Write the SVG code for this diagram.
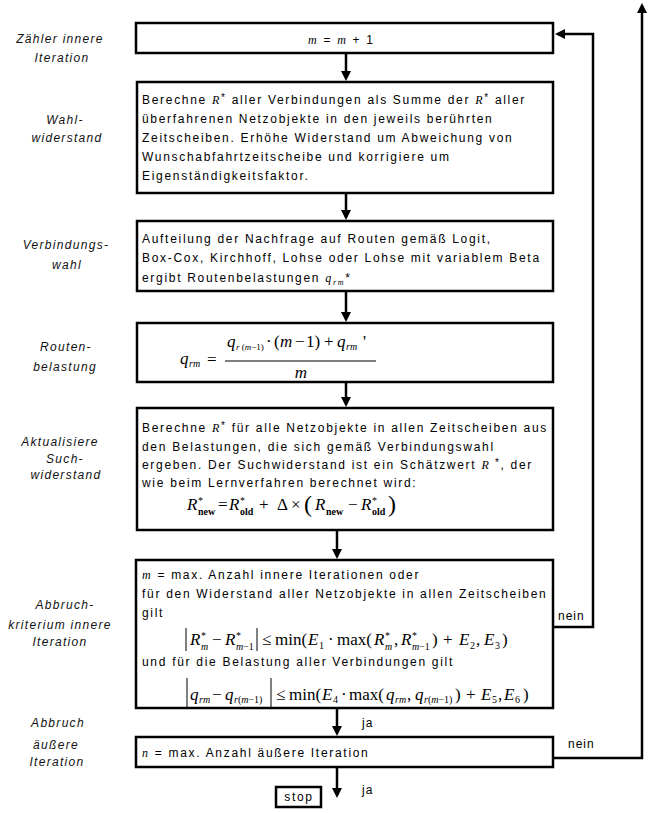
<svg xmlns="http://www.w3.org/2000/svg" width="650" height="813" viewBox="0 0 650 813">
<style>
.box{fill:#fff;stroke:#000;stroke-width:2.5}
.t{font-family:"Liberation Sans",Arial,sans-serif;font-size:12px;letter-spacing:1.7px;fill:#000}
.lbl{font-family:"Liberation Sans",Arial,sans-serif;font-size:12px;font-style:italic;letter-spacing:1.3px;text-anchor:middle;fill:#111}
.mi{font-family:"Liberation Serif","Times New Roman",serif;font-style:italic}
.sb{font-family:"Liberation Serif","Times New Roman",serif;font-style:italic;font-size:8px}
.ast{font-size:10px}
.mt{font-family:"Liberation Serif","Times New Roman",serif;font-size:17px;fill:#000;letter-spacing:0}
.i{font-style:italic}
.s{font-size:10px}
.s9{font-size:9px}
.st{font-size:10px}
.bw{font-size:10px;font-weight:bold}
.big{font-size:24px}
.conn{stroke:#000;stroke-width:2.5;fill:none}
.bar{stroke:#000;stroke-width:1}
.ann{font-family:"Liberation Sans",Arial,sans-serif;font-size:12px;letter-spacing:1px;fill:#000}
</style>
<defs>
<marker id="ah" viewBox="0 0 10 10" refX="7" refY="5" markerWidth="10" markerHeight="10" markerUnits="userSpaceOnUse" orient="auto"><path d="M0,0 L10,5 L0,10 z" fill="#000"/></marker>
</defs>

<g id="labels">
<text class="lbl" x="60" y="43">Zähler innere</text>
<text class="lbl" x="62" y="62">Iteration</text>
<text class="lbl" x="65" y="124">Wahl-</text>
<text class="lbl" x="67" y="142">widerstand</text>
<text class="lbl" x="66" y="249">Verbindungs-</text>
<text class="lbl" x="67" y="269">wahl</text>
<text class="lbl" x="66" y="351">Routen-</text>
<text class="lbl" x="65" y="371">belastung</text>
<text class="lbl" x="60" y="446">Aktualisiere</text>
<text class="lbl" x="65" y="463">Such-</text>
<text class="lbl" x="66" y="479">widerstand</text>
<text class="lbl" x="65" y="609">Abbruch-</text>
<text class="lbl" x="60" y="629">kriterium innere</text>
<text class="lbl" x="60" y="646">Iteration</text>
<text class="lbl" x="58" y="727">Abbruch</text>
<text class="lbl" x="56" y="749">äußere</text>
<text class="lbl" x="57" y="766">Iteration</text>
</g>

<g id="connectors">
<line class="conn" x1="346" y1="53" x2="346" y2="78" marker-end="url(#ah)"/>
<line class="conn" x1="346" y1="193" x2="346" y2="217" marker-end="url(#ah)"/>
<line class="conn" x1="346" y1="291" x2="346" y2="319" marker-end="url(#ah)"/>
<line class="conn" x1="346" y1="382" x2="346" y2="404" marker-end="url(#ah)"/>
<line class="conn" x1="337" y1="530" x2="337" y2="556" marker-end="url(#ah)"/>
<line class="conn" x1="337" y1="708" x2="337" y2="733" marker-end="url(#ah)"/>
<line class="conn" x1="337" y1="767" x2="337" y2="795" marker-end="url(#ah)"/>
<polyline class="conn" points="553,627 593,627 593,34 558,34" marker-end="url(#ah)"/>
<polyline class="conn" points="553,758 642,758 642,6" marker-end="url(#ah)"/>
<text class="ann" x="362" y="727">ja</text>
<text class="ann" x="362" y="794">ja</text>
<text class="ann" x="558" y="620">nein</text>
<text class="ann" x="568" y="748">nein</text>
</g>

<g id="n1">
<rect class="box" x="136" y="23" width="417" height="30"/>
<text class="t" x="308" y="44"><tspan class="mi">m</tspan> = <tspan class="mi">m</tspan> + 1</text>
</g>

<g id="n2">
<rect class="box" x="137" y="82" width="416" height="111"/>
<text class="t" x="142" y="104">Berechne <tspan class="mi">R</tspan><tspan class="ast" dy="-3">*</tspan><tspan dy="3"> aller Verbindungen als Summe der </tspan><tspan class="mi">R</tspan><tspan class="ast" dy="-3">*</tspan><tspan dy="3"> aller</tspan></text>
<text class="t" x="142" y="123">überfahrenen Netzobjekte in den jeweils berührten</text>
<text class="t" x="142" y="142">Zeitscheiben. Erhöhe Widerstand um Abweichung von</text>
<text class="t" x="142" y="161">Wunschabfahrtzeitscheibe und korrigiere um</text>
<text class="t" x="142" y="180">Eigenständigkeitsfaktor.</text>
</g>

<g id="n3">
<rect class="box" x="137" y="221" width="416" height="70"/>
<text class="t" x="142" y="243">Aufteilung der Nachfrage auf Routen gemäß Logit,</text>
<text class="t" x="142" y="262">Box-Cox, Kirchhoff, Lohse oder Lohse mit variablem Beta</text>
<text class="t" x="142" y="282">ergibt Routenbelastungen <tspan class="mi">q</tspan><tspan class="sb" dy="3">rm</tspan><tspan dy="-3">*</tspan></text>
</g>

<g id="n4">
<rect class="box" x="137" y="323" width="416" height="59"/>
<text class="mt"><tspan class="i" x="180" y="364">q</tspan><tspan class="i s" x="189" y="367">rm</tspan><tspan x="207" y="365">=</tspan></text>
<line class="bar" x1="225" y1="361" x2="376" y2="361"/>
<text class="mt"><tspan class="i" x="227" y="347">q</tspan><tspan class="s9" x="236" y="350"><tspan class="i">r</tspan> (<tspan class="i">m</tspan>−1)</tspan><tspan x="266" y="347">·</tspan><tspan x="274" y="347">(</tspan><tspan class="i" x="280">m</tspan><tspan x="295">−</tspan><tspan x="306">1)</tspan><tspan x="324">+</tspan><tspan class="i" x="337">q</tspan><tspan class="i s" x="346" y="350">rm</tspan><tspan x="363" y="347">'</tspan></text>
<text class="mt i" x="301" y="378" text-anchor="middle">m</text>
</g>

<g id="n5">
<rect class="box" x="137" y="408" width="416" height="122"/>
<text class="t" x="142" y="432">Berechne <tspan class="mi">R</tspan><tspan class="ast" dy="-3">*</tspan><tspan dy="3"> für alle Netzobjekte in allen Zeitscheiben aus</tspan></text>
<text class="t" x="142" y="451">den Belastungen, die sich gemäß Verbindungswahl</text>
<text class="t" x="142" y="469">ergeben. Der Suchwiderstand ist ein Schätzwert <tspan class="mi">R</tspan><tspan class="ast" dy="-3"> *</tspan><tspan dy="3">, der</tspan></text>
<text class="t" x="142" y="487">wie beim Lernverfahren berechnet wird:</text>
<text class="mt"><tspan class="i" x="187" y="510">R</tspan><tspan class="st" x="198" y="504">*</tspan><tspan class="bw" x="198" y="515">new</tspan><tspan x="218" y="510">=</tspan><tspan class="i" x="229" y="510">R</tspan><tspan class="st" x="240" y="504">*</tspan><tspan class="bw" x="240" y="515">old</tspan><tspan x="259" y="510">+</tspan><tspan x="277" y="510">Δ</tspan><tspan x="291" y="510">×</tspan><tspan class="big" x="304" y="512">(</tspan><tspan class="i" x="315" y="510">R</tspan><tspan class="bw" x="326" y="515">new</tspan><tspan x="348" y="510">−</tspan><tspan class="i" x="361" y="510">R</tspan><tspan class="st" x="372" y="504">*</tspan><tspan class="bw" x="372" y="515">old</tspan><tspan class="big" x="388" y="512">)</tspan></text>
</g>

<g id="n6">
<rect class="box" x="136" y="560" width="417" height="148"/>
<text class="t" x="142" y="579"><tspan class="mi">m</tspan> = max. Anzahl innere Iterationen oder</text>
<text class="t" x="142" y="598">für den Widerstand aller Netzobjekte in allen Zeitscheiben</text>
<text class="t" x="142" y="617">gilt</text>
<line class="bar" x1="186" y1="628" x2="186" y2="651"/>
<line class="bar" x1="257" y1="628" x2="257" y2="651"/>
<text class="mt"><tspan class="i" x="190" y="645">R</tspan><tspan class="st" x="201" y="639">*</tspan><tspan class="i s" x="201" y="650">m</tspan><tspan x="212" y="645">−</tspan><tspan class="i" x="225" y="645">R</tspan><tspan class="st" x="236" y="639">*</tspan><tspan class="s" x="236" y="650"><tspan class="i">m</tspan>−1</tspan><tspan x="262" y="645">≤</tspan><tspan x="275" y="645">min(</tspan><tspan class="i" x="308" y="645">E</tspan><tspan class="s" x="319" y="649">1</tspan><tspan x="328" y="645">·</tspan><tspan x="337" y="645">max(</tspan><tspan class="i" x="374" y="645">R</tspan><tspan class="st" x="385" y="639">*</tspan><tspan class="i s" x="385" y="650">m</tspan><tspan x="394" y="645">,</tspan><tspan class="i" x="401" y="645">R</tspan><tspan class="st" x="412" y="639">*</tspan><tspan class="s" x="412" y="650"><tspan class="i">m</tspan>−1</tspan><tspan x="432" y="645">)</tspan><tspan x="443" y="645">+</tspan><tspan class="i" x="459" y="645">E</tspan><tspan class="s" x="470" y="649">2</tspan><tspan x="476" y="645">,</tspan><tspan class="i" x="484" y="645">E</tspan><tspan class="s" x="495" y="649">3</tspan><tspan x="502" y="645">)</tspan></text>
<text class="t" x="142" y="666">und für die Belastung aller Verbindungen gilt</text>
<line class="bar" x1="187" y1="678" x2="187" y2="708"/>
<line class="bar" x1="271" y1="678" x2="271" y2="708"/>
<text class="mt"><tspan class="i" x="190" y="700">q</tspan><tspan class="i s" x="199" y="703">rm</tspan><tspan x="212" y="700">−</tspan><tspan class="i" x="225" y="700">q</tspan><tspan class="s" x="234" y="703"><tspan class="i">r</tspan>(<tspan class="i">m</tspan>−1)</tspan><tspan x="276" y="700">≤</tspan><tspan x="289" y="700">min(</tspan><tspan class="i" x="322" y="700">E</tspan><tspan class="s" x="333" y="703">4</tspan><tspan x="341" y="700">·</tspan><tspan x="349" y="700">max(</tspan><tspan class="i" x="386" y="700">q</tspan><tspan class="i s" x="395" y="703">rm</tspan><tspan x="407" y="700">,</tspan><tspan class="i" x="415" y="700">q</tspan><tspan class="s" x="424" y="703"><tspan class="i">r</tspan>(<tspan class="i">m</tspan>−1)</tspan><tspan x="455" y="700">)</tspan><tspan x="466" y="700">+</tspan><tspan class="i" x="481" y="700">E</tspan><tspan class="s" x="492" y="703">5</tspan><tspan x="498" y="700">,</tspan><tspan class="i" x="504" y="700">E</tspan><tspan class="s" x="515" y="703">6</tspan><tspan x="523" y="700">)</tspan></text>
</g>

<g id="n7">
<rect class="box" x="136" y="737" width="417" height="30"/>
<text class="t" x="142" y="757"><tspan class="mi">n</tspan> = max. Anzahl äußere Iteration</text>
</g>

<g id="stop">
<rect class="box" x="276" y="787" width="45" height="20"/>
<text class="t" x="299" y="801" text-anchor="middle" letter-spacing="1">stop</text>
</g>
</svg>
